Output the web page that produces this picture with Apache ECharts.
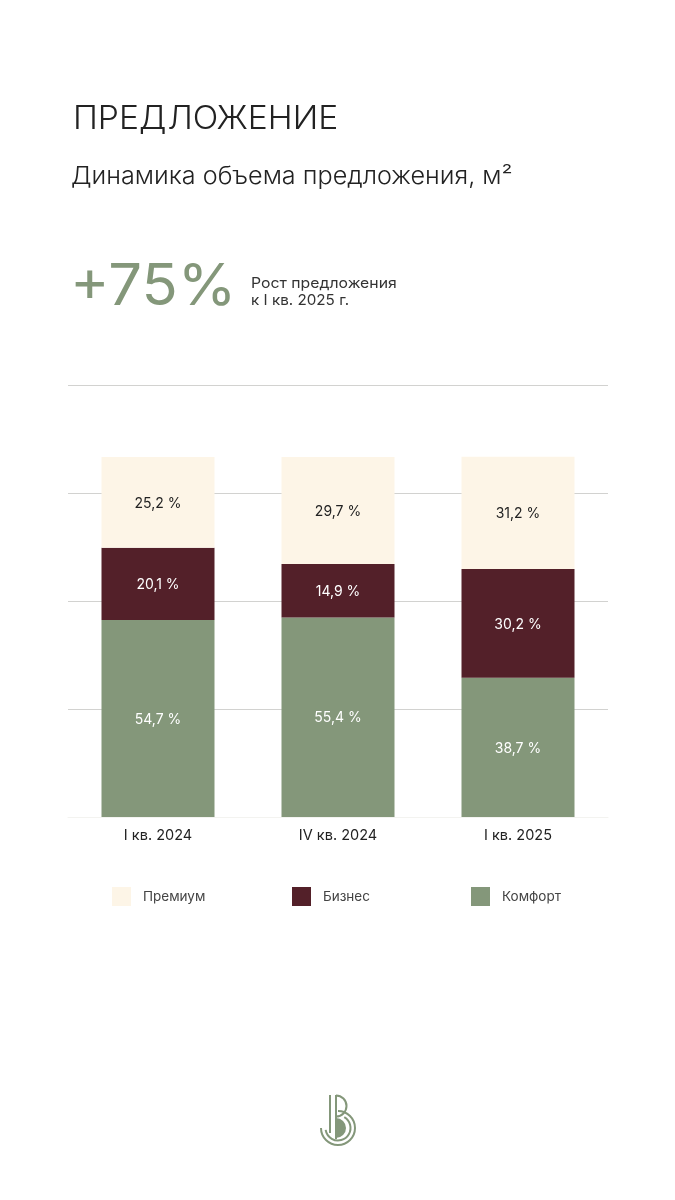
<!DOCTYPE html>
<html>
<head>
<meta charset="utf-8">
<style>
  html, body { margin: 0; padding: 0; background: #fff; }
  #main { width: 675px; height: 1200px; }
</style>
<script src="https://cdn.jsdelivr.net/npm/echarts@6/dist/echarts.min.js"></script>
</head>
<body>
<div id="main"></div>
<script>
const categories = ['I кв. 2024', 'IV кв. 2024', 'I кв. 2025']
const comfort = [54.7, 55.4, 38.7]
const business = [20.1, 14.9, 30.2]
const premium = [25.2, 29.7, 31.2]

const font = 'Inter'
const green = '#84977a'
const wine = '#532029'
const cream = '#fdf5e7'

const percentLabel = (color) => ({
  show: true,
  position: 'inside',
  offset: [0, 1],
  color: color,
  fontFamily: font,
  fontSize: 14,
  formatter: (p) => p.value.toFixed(1).replace('.', ',') + ' %'
})

const legendAt = (name, left) => ({
  data: [name],
  left: left,
  top: 887,
  padding: 0,
  itemWidth: 19,
  itemHeight: 19,
  itemGap: 12,
  icon: 'rect',
  selectedMode: false,
  textStyle: { fontFamily: font, fontSize: 13.5, color: '#444', padding: [4, 0, 0, 7] }
})

const headerText = (x, y, text, size, color, stretch, weight) => ({
  type: 'text',
  x: x,
  y: y,
  scaleX: stretch,
  style: { text: text, fontFamily: font, fontSize: size, fill: color, fontWeight: weight || 400, verticalAlign: 'middle' }
})

// logo: thin J and B strokes around a filled bowl
const logoStroke = { fill: 'none', stroke: green, lineWidth: 2 }
const logoArc = (cx, cy, r, startAngle, endAngle) => ({
  type: 'arc',
  shape: { cx: cx, cy: cy, r: r, startAngle: startAngle, endAngle: endAngle, clockwise: true },
  style: logoStroke
})
const logoLine = (x1, y1, x2, y2) => ({
  type: 'line',
  shape: { x1: x1, y1: y1, x2: x2, y2: y2 },
  style: logoStroke
})
const logo = {
  type: 'group',
  children: [
    { type: 'sector', shape: { cx: 336, cy: 1128, r: 10, startAngle: -Math.PI / 2, endAngle: Math.PI / 2 }, style: { fill: green } },
    logoLine(330, 1095, 330, 1133),
    logoLine(336, 1095, 336, 1139),
    logoArc(336, 1106, 10.5, -Math.PI / 2, Math.PI / 2),
    logoArc(338, 1128, 17, -Math.PI / 2, Math.PI),
    logoArc(338, 1128, 12.5, -Math.PI / 3, Math.PI * 0.95)
  ]
}

const chart = echarts.init(document.getElementById('main'), null, { renderer: 'canvas' })

chart.setOption({
  animation: false,
  backgroundColor: '#fff',
  grid: { left: 68, right: 67, top: 385, height: 432 },
  legend: [legendAt('Премиум', 112), legendAt('Бизнес', 292), legendAt('Комфорт', 471)],
  graphic: [
    headerText(73, 119, 'ПРЕДЛОЖЕНИЕ', 32, '#222', 1.05, 300),
    headerText(71, 177, 'Динамика объема предложения, м²', 24, '#222', 1.05, 300),
    headerText(70, 288, '+75%', 58, green, 1.03, 400),
    headerText(251, 284, 'Рост предложения', 14.5, '#333', 1.09),
    headerText(251, 301, 'к I кв. 2025 г.', 14.5, '#333', 1.05),
    logo
  ],
  xAxis: {
    type: 'category',
    data: categories,
    axisLine: { lineStyle: { color: '#f3f3f0' } },
    axisTick: { show: false },
    axisLabel: { color: '#222', fontFamily: font, fontSize: 14.5, margin: 11 }
  },
  yAxis: {
    type: 'value',
    min: 0,
    max: 120,
    interval: 30,
    axisLabel: { show: false },
    axisLine: { show: false },
    axisTick: { show: false },
    splitLine: { lineStyle: { color: '#d2d2d0', width: 1 } }
  },
  series: [
    { name: 'Комфорт', type: 'bar', stack: 'total', barWidth: 113, data: comfort, itemStyle: { color: green }, label: percentLabel('#fff') },
    { name: 'Бизнес', type: 'bar', stack: 'total', barWidth: 113, data: business, itemStyle: { color: wine }, label: percentLabel('#fff') },
    { name: 'Премиум', type: 'bar', stack: 'total', barWidth: 113, data: premium, itemStyle: { color: cream }, label: percentLabel('#222') }
  ]
})
</script>
</body>
</html>
